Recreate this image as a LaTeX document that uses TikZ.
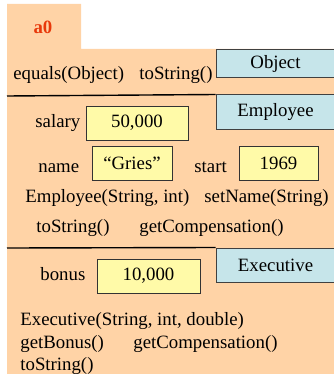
\documentclass[tikz,border=0pt]{standalone}
\usepackage{fontspec}
\setmainfont{Liberation Serif}
\definecolor{objpeach}{RGB}{255,211,166}
\definecolor{clsblue}{RGB}{198,229,234}
\definecolor{fldyellow}{RGB}{255,250,168}
\definecolor{namered}{RGB}{232,56,10}

\begin{document}
\begin{tikzpicture}[
  x=0.5pt, y=-0.5pt,
  every node/.style={font=\fontsize{9.4}{11}\selectfont, inner sep=0pt},
  txt/.style={anchor=base west},
  clsname/.style={draw=black!75, line width=0.5pt, fill=clsblue, minimum width=59.5pt, minimum height=17pt},
  fieldbox/.style={draw=black!80, line width=0.5pt, fill=fldyellow, minimum height=17pt},
  partline/.style={line width=0.7pt, draw=black}
]
\useasboundingbox (0,0) rectangle (333,374);
% the object: a tab for its name, then one part per class
\fill[objpeach] (7,4) -- (81,4) -- (81,49) -- (336,49) -- (336,374) -- (7,374) -- cycle;
\node[font=\fontsize{9.4}{11}\selectfont\bfseries, text=namered] (objname) at (43,27) {a0};

% Object part
\node[clsname, minimum height=14pt] (objcls) at (275.5,64) {Object};
\node[txt] (equals) at (13,80) {equals(Object)};
\node[txt] (objtostr) at (139,80) {toString()};

% Employee part
\node[clsname] (empcls) at (275.5,112) {Employee};
\draw[partline] (7,96) -- (empcls.north west);
\node[txt] (salarylbl) at (35,127) {salary};
\node[fieldbox, minimum width=51pt] (salary) at (137,123) {50,000};
\node[txt] (namelbl) at (38,172) {name};
\node[fieldbox, minimum width=40pt] (namefld) at (132,163) {“Gries”};
\node[txt] (startlbl) at (194,172) {start};
\node[fieldbox, minimum width=39.5pt] (start) at (278.5,163) {1969};
\node[txt] (empctor) at (25,202) {Employee(String, int)};
\node[txt] (setname) at (204,202) {setName(String)};
\node[txt] (emptostr) at (36,232) {toString()};
\node[txt] (empcomp) at (139,232) {getCompensation()};

% Executive part
\node[clsname] (execcls) at (275.5,265) {Executive};
\draw[partline] (7,248) -- (execcls.north west);
\node[txt] (bonuslbl) at (40,280) {bonus};
\node[fieldbox, minimum width=51.5pt] (bonus) at (148.5,276) {10,000};
\node[txt] (execctor) at (20,325) {Executive(String, int, double)};
\node[txt] (getbonus) at (20,348) {getBonus()};
\node[txt] (execcomp) at (133,348) {getCompensation()};
\node[txt] (exectostr) at (20,370) {toString()};
\end{tikzpicture}
\end{document}
